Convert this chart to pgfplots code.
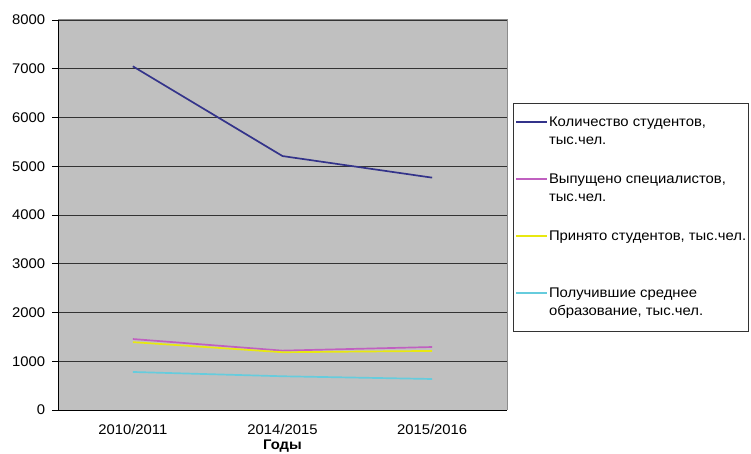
\documentclass[border=0pt]{standalone}
\usepackage{pgfplots}
\pgfplotsset{compat=1.18}
\usepackage{fontspec}
\setmainfont{Liberation Sans}[FakeStretch=1.06]
\definecolor{cnavy}{HTML}{33338A}
\definecolor{cmag}{HTML}{C060C0}
\definecolor{cyel}{HTML}{E8E810}
\definecolor{ccyan}{HTML}{66CCDD}
\definecolor{plotbg}{HTML}{C0C0C0}
\newcommand{\lt}[1]{\parbox[t]{196bp}{\raggedright #1}}
\begin{document}
\begin{tikzpicture}[x=1bp,y=1bp]
\fontsize{14bp}{18bp}\selectfont
\begin{axis}[
  at={(58bp,44bp)}, anchor=south west,
  scale only axis, width=449bp, height=390bp,
  xmin=-0.5, xmax=2.5, ymin=0, ymax=8000,
  xtick={0,1,2}, xticklabels={2010/2011,2014/2015,2015/2016},
  minor xtick={-0.5,0.5,1.5,2.5},
  x tick style={draw=none},
  minor x tick style={black, line width=0.8pt},
  minor tick length=6bp,
  xminorgrids=false,
  ytick={0,1000,...,8000},
  ymajorgrids, grid style={black!80, line width=0.8pt},
  y tick style={black, line width=0.8pt},
  major tick length=6bp,
  tick align=outside,
  axis x line*=bottom, axis y line*=left,
  x axis line style={black, line width=0.8pt, -},
  y axis line style={black, line width=0.8pt, -},
  axis background/.style={fill=plotbg},
  ticklabel style={font=\fontsize{14bp}{16bp}\selectfont},
  /pgf/number format/assume math mode=true,
  /pgf/number format/1000 sep={},
  xlabel={\bfseries Годы},
  xlabel style={font=\fontsize{14bp}{16bp}\selectfont, yshift=4bp},
  yticklabel style={xshift=-2bp},
  xticklabel style={yshift=-3bp},
  legend style={at={(1.0134,0.788)}, anchor=north west, draw=black!80,
    inner xsep=2bp, inner ysep=13bp, row sep=26bp,
    font=\fontsize{14bp}{18bp}\selectfont,
    cells={anchor=base west},
    nodes={text height=10bp, text depth=19bp, inner sep=1bp}},
  every axis plot post/.append style={line width=1.7pt,
    legend image code/.code={\draw[##1, line width=1.8pt] (0bp,4.5bp) -- (31bp,4.5bp);}},
]
\addplot[draw=cnavy] coordinates {(0,7050) (1,5209) (2,4766)};
\addlegendentry{\lt{Количество студентов,\\тыс.чел.}}
\addplot[draw=cmag] coordinates {(0,1456) (1,1218) (2,1292)};
\addlegendentry{\lt{Выпущено специалистов,\\тыс.чел.}}
\addplot[draw=cyel] coordinates {(0,1392) (1,1185) (2,1212)};
\addlegendentry{\lt{\mbox{Принято студентов, тыс.чел.}}}
\addplot[draw=ccyan] coordinates {(0,780) (1,692) (2,636)};
\addlegendentry{\lt{Получившие среднее\\образование, тыс.чел.}}
\end{axis}
\draw[black!45, line width=1pt] (58bp,434bp) -- (507bp,434bp) -- (507bp,44bp);
\pgfresetboundingbox
\path[use as bounding box] (0,0) rectangle (751bp,454bp);
\end{tikzpicture}
\end{document}
